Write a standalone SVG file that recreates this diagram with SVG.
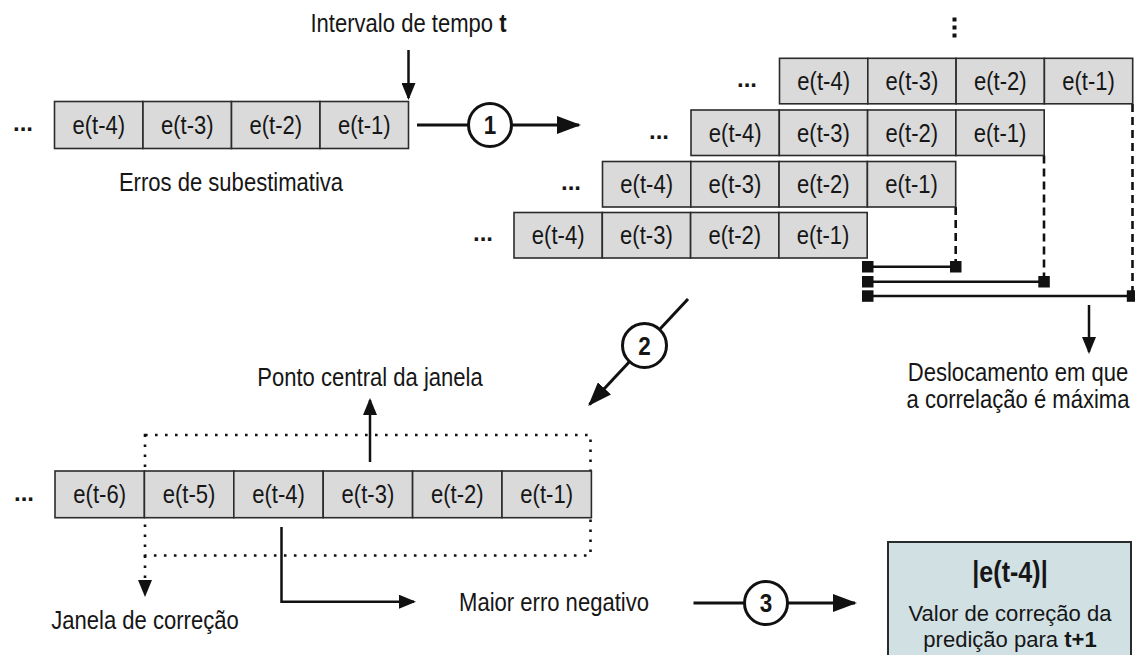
<svg xmlns="http://www.w3.org/2000/svg" width="1135" height="655" viewBox="0 0 1135 655">
  <style>
    text { font-family: "Liberation Sans", Arial, sans-serif; fill: #161616; }
    .lbl { font-size: 25.5px; text-anchor: middle; }
    .note { font-size: 22.5px; text-anchor: middle; }
    .num { font-size: 26px; font-weight: bold; text-anchor: middle; }
    .big { font-size: 29px; font-weight: bold; text-anchor: middle; }
    .dots { font-size: 24px; font-weight: bold; text-anchor: middle; }
    .b { font-weight: bold; }
    .cell { fill: #dadada; stroke: #2b2b2b; stroke-width: 1.6; }
    .flow { fill: none; stroke: #111; stroke-width: 3; }
    .thin { fill: none; stroke: #111; stroke-width: 2.5; }
    .dash { fill: none; stroke: #111; stroke-width: 2.6; stroke-dasharray: 8 5; }
    .dot { fill: none; stroke: #111; stroke-width: 2.6; stroke-dasharray: 2.6 7.4; }
    .ring { fill: #fff; stroke: #111; stroke-width: 3; }
    .sq { fill: #111; }
    .result { fill: #d1e0e3; stroke: #2b2b2b; stroke-width: 2; }
  </style>
  <defs>
    <marker id="ahBig" markerUnits="userSpaceOnUse" markerWidth="24" markerHeight="18" refX="22" refY="9" orient="auto">
      <path d="M0,0 L24,9 L0,18 z" fill="#111"/>
    </marker>
    <marker id="ahSmall" markerUnits="userSpaceOnUse" markerWidth="17" markerHeight="14" refX="15" refY="7" orient="auto">
      <path d="M0,0 L17,7 L0,14 z" fill="#111"/>
    </marker>
  </defs>

  <rect width="1135" height="655" fill="#fff"/>

  <!-- correction window (drawn beneath the bottom series) -->
  <g id="correction-window">
    <path class="dot" d="M145,435 H590.5 V555.5 H145 Z"/>
    <path class="dot" d="M145,555.5 V582"/>
    <path d="M138,580 L152,580 L145,597 z" fill="#111"/>
  </g>

  <!-- connectors -->
  <g id="connectors">
    <!-- time interval pointer -->
    <line class="thin" x1="408.5" y1="50" x2="408.5" y2="98" marker-end="url(#ahSmall)"/>
    <!-- step 1 -->
    <line class="flow" x1="417" y1="125" x2="579" y2="125" marker-end="url(#ahBig)"/>
    <!-- lag dashed guides -->
    <line class="dash" x1="955.7" y1="207" x2="955.7" y2="262"/>
    <line class="dash" x1="1044" y1="155.5" x2="1044" y2="277"/>
    <line class="dash" x1="1132.5" y1="104" x2="1132.5" y2="291"/>
    <!-- lag brackets -->
    <line class="thin" x1="867.7" y1="266.7" x2="955.7" y2="266.7"/>
    <line class="thin" x1="867.7" y1="281.7" x2="1044" y2="281.7"/>
    <line class="thin" x1="867.7" y1="296" x2="1132.5" y2="296"/>
    <!-- max correlation pointer -->
    <line class="thin" x1="1089" y1="305" x2="1089" y2="352" marker-end="url(#ahSmall)"/>
    <!-- step 2 -->
    <line class="flow" x1="688" y1="299" x2="589.5" y2="404.5" marker-end="url(#ahBig)"/>
    <!-- window centre pointer -->
    <line class="thin" x1="370" y1="462" x2="370" y2="400" marker-end="url(#ahSmall)"/>
    <!-- largest negative error pointer -->
    <path class="thin" d="M281.5,527 V601.7 H414" marker-end="url(#ahSmall)"/>
    <!-- step 3 -->
    <line class="flow" x1="693.5" y1="603" x2="855" y2="603" marker-end="url(#ahBig)"/>
  </g>

  <!-- bracket end squares -->
  <g id="lag-markers">
    <rect class="sq" x="862" y="261" width="11.5" height="11.5"/>
    <rect class="sq" x="950" y="261" width="11.5" height="11.5"/>
    <rect class="sq" x="862" y="276" width="11.5" height="11.5"/>
    <rect class="sq" x="1038.3" y="276" width="11.5" height="11.5"/>
    <rect class="sq" x="862" y="290.3" width="11.5" height="11.5"/>
    <rect class="sq" x="1126.8" y="290.3" width="11.5" height="11.5"/>
  </g>

  <!-- step markers -->
  <g id="step-1">
    <circle class="ring" cx="490" cy="125" r="21.5"/>
    <text class="num" transform="translate(490 134) scale(.865 1)">1</text>
  </g>
  <g id="step-2">
    <circle class="ring" cx="644.5" cy="345.5" r="22"/>
    <text class="num" transform="translate(644.5 354.5) scale(.865 1)">2</text>
  </g>
  <g id="step-3">
    <circle class="ring" cx="766" cy="603" r="21.5"/>
    <text class="num" transform="translate(766 612) scale(.865 1)">3</text>
  </g>

  <!-- input series -->
  <g id="series-input">
    <text class="dots" x="23" y="131">...</text>
    <rect class="cell" x="54.5" y="101.5" width="88.5" height="47"/>
    <rect class="cell" x="143" y="101.5" width="88.5" height="47"/>
    <rect class="cell" x="231.5" y="101.5" width="88.5" height="47"/>
    <rect class="cell" x="320" y="101.5" width="88.5" height="47"/>
    <text class="lbl" transform="translate(98.75 134) scale(.865 1)">e(t-4)</text>
    <text class="lbl" transform="translate(187.25 134) scale(.865 1)">e(t-3)</text>
    <text class="lbl" transform="translate(275.75 134) scale(.865 1)">e(t-2)</text>
    <text class="lbl" transform="translate(364.25 134) scale(.865 1)">e(t-1)</text>
  </g>
  <g id="label-interval">
    <text class="lbl" transform="translate(408.5 32) scale(.865 1)">Intervalo de tempo <tspan class="b">t</tspan></text>
  </g>
  <g id="label-errors">
    <text class="lbl" transform="translate(231 191) scale(.865 1)">Erros de subestimativa</text>
  </g>

  <!-- shifted copies of the series -->
  <g id="more-shifts">
    <rect class="sq" x="952.5" y="17.5" width="4" height="4"/>
    <rect class="sq" x="952.5" y="25.5" width="4" height="4"/>
    <rect class="sq" x="952.5" y="33.5" width="4" height="4"/>
  </g>
  <g id="shift-1">
    <text class="dots" x="747" y="87">...</text>
    <rect class="cell" x="779.5" y="58.3" width="88.3" height="45.5"/>
    <rect class="cell" x="867.8" y="58.3" width="88.3" height="45.5"/>
    <rect class="cell" x="956.1" y="58.3" width="88.3" height="45.5"/>
    <rect class="cell" x="1044.4" y="58.3" width="88.3" height="45.5"/>
    <text class="lbl" transform="translate(823.65 90) scale(.865 1)">e(t-4)</text>
    <text class="lbl" transform="translate(911.95 90) scale(.865 1)">e(t-3)</text>
    <text class="lbl" transform="translate(1000.25 90) scale(.865 1)">e(t-2)</text>
    <text class="lbl" transform="translate(1088.55 90) scale(.865 1)">e(t-1)</text>
  </g>
  <g id="shift-2">
    <text class="dots" x="659" y="138.5">...</text>
    <rect class="cell" x="691" y="110" width="88.3" height="45.5"/>
    <rect class="cell" x="779.3" y="110" width="88.3" height="45.5"/>
    <rect class="cell" x="867.6" y="110" width="88.3" height="45.5"/>
    <rect class="cell" x="955.9" y="110" width="88.3" height="45.5"/>
    <text class="lbl" transform="translate(735.15 141.7) scale(.865 1)">e(t-4)</text>
    <text class="lbl" transform="translate(823.45 141.7) scale(.865 1)">e(t-3)</text>
    <text class="lbl" transform="translate(911.75 141.7) scale(.865 1)">e(t-2)</text>
    <text class="lbl" transform="translate(1000.05 141.7) scale(.865 1)">e(t-1)</text>
  </g>
  <g id="shift-3">
    <text class="dots" x="571" y="190">...</text>
    <rect class="cell" x="602.5" y="161.5" width="88.3" height="45.5"/>
    <rect class="cell" x="690.8" y="161.5" width="88.3" height="45.5"/>
    <rect class="cell" x="779.1" y="161.5" width="88.3" height="45.5"/>
    <rect class="cell" x="867.4" y="161.5" width="88.3" height="45.5"/>
    <text class="lbl" transform="translate(646.65 193.2) scale(.865 1)">e(t-4)</text>
    <text class="lbl" transform="translate(734.95 193.2) scale(.865 1)">e(t-3)</text>
    <text class="lbl" transform="translate(823.25 193.2) scale(.865 1)">e(t-2)</text>
    <text class="lbl" transform="translate(911.55 193.2) scale(.865 1)">e(t-1)</text>
  </g>
  <g id="shift-4">
    <text class="dots" x="483" y="241">...</text>
    <rect class="cell" x="514" y="212.5" width="88.3" height="45.5"/>
    <rect class="cell" x="602.3" y="212.5" width="88.3" height="45.5"/>
    <rect class="cell" x="690.6" y="212.5" width="88.3" height="45.5"/>
    <rect class="cell" x="778.9" y="212.5" width="88.3" height="45.5"/>
    <text class="lbl" transform="translate(558.15 244.2) scale(.865 1)">e(t-4)</text>
    <text class="lbl" transform="translate(646.45 244.2) scale(.865 1)">e(t-3)</text>
    <text class="lbl" transform="translate(734.75 244.2) scale(.865 1)">e(t-2)</text>
    <text class="lbl" transform="translate(823.05 244.2) scale(.865 1)">e(t-1)</text>
  </g>
  <g id="label-max-correlation">
    <text class="lbl" transform="translate(1018 381) scale(.865 1)">Deslocamento em que</text>
    <text class="lbl" transform="translate(1018 408) scale(.865 1)">a correlação é máxima</text>
  </g>

  <!-- windowed series -->
  <g id="series-window">
    <text class="dots" x="24" y="501">...</text>
    <rect class="cell" x="55" y="471" width="89.4" height="46.7"/>
    <rect class="cell" x="144.4" y="471" width="89.4" height="46.7"/>
    <rect class="cell" x="233.8" y="471" width="89.4" height="46.7"/>
    <rect class="cell" x="323.2" y="471" width="89.4" height="46.7"/>
    <rect class="cell" x="412.6" y="471" width="89.4" height="46.7"/>
    <rect class="cell" x="502" y="471" width="89.4" height="46.7"/>
    <text class="lbl" transform="translate(99.7 503.4) scale(.865 1)">e(t-6)</text>
    <text class="lbl" transform="translate(189.1 503.4) scale(.865 1)">e(t-5)</text>
    <text class="lbl" transform="translate(278.5 503.4) scale(.865 1)">e(t-4)</text>
    <text class="lbl" transform="translate(367.9 503.4) scale(.865 1)">e(t-3)</text>
    <text class="lbl" transform="translate(457.3 503.4) scale(.865 1)">e(t-2)</text>
    <text class="lbl" transform="translate(546.7 503.4) scale(.865 1)">e(t-1)</text>
  </g>
  <g id="label-centre">
    <text class="lbl" transform="translate(370 386) scale(.865 1)">Ponto central da janela</text>
  </g>
  <g id="label-window">
    <text class="lbl" transform="translate(145 629) scale(.865 1)">Janela de correção</text>
  </g>
  <g id="label-negative">
    <text class="lbl" transform="translate(554 611) scale(.865 1)">Maior erro negativo</text>
  </g>

  <!-- correction value -->
  <g id="result">
    <rect class="result" x="888" y="542" width="243" height="130"/>
    <text class="big" transform="translate(1010 582) scale(.865 1)">|e(t-4)|</text>
    <text class="note" transform="translate(1010 621) scale(.98 1)">Valor de correção da</text>
    <text class="note" transform="translate(1010 647) scale(.98 1)">predição para <tspan class="b">t+1</tspan></text>
  </g>
</svg>
